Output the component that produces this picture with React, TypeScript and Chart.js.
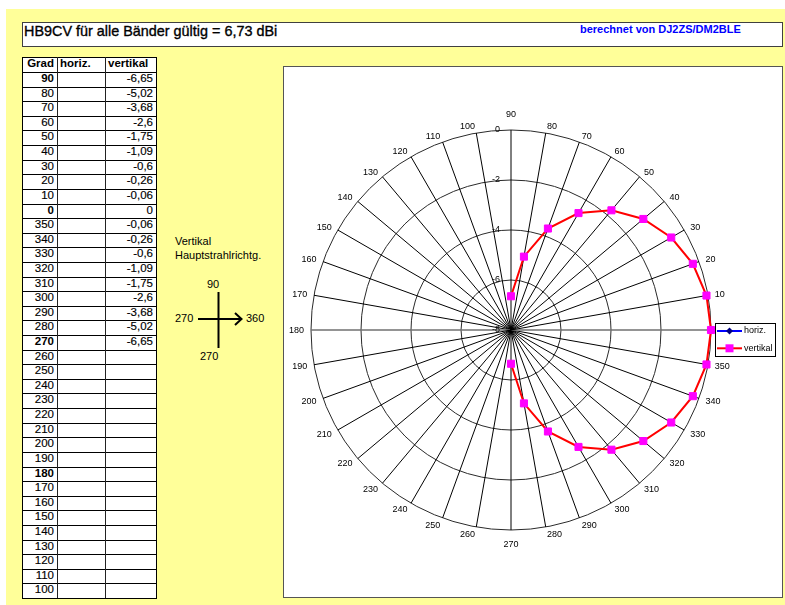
import React, { useEffect, useRef } from "react";
import { Chart, registerables } from "chart.js";

Chart.register(...registerables);

// ---------- data ----------
const degrees: number[] = [
  90, 80, 70, 60, 50, 40, 30, 20, 10, 0, 350, 340, 330, 320, 310, 300, 290, 280, 270,
  260, 250, 240, 230, 220, 210, 200, 190, 180, 170, 160, 150, 140, 130, 120, 110, 100,
];
const horizValues: (number | null)[] = [
  null, null, null, null, null, null, null, null, null, null, null, null, null, null, null, null, null, null, null,
  null, null, null, null, null, null, null, null, null, null, null, null, null, null, null, null, null,
];
const vertikalValues: (number | null)[] = [
  -6.65, -5.02, -3.68, -2.6, -1.75, -1.09, -0.6, -0.26, -0.06, 0, -0.06, -0.26, -0.6, -1.09, -1.75, -2.6, -3.68, -5.02, -6.65,
  null, null, null, null, null, null, null, null, null, null, null, null, null, null, null, null, null,
];
const boldDegrees: number[] = [90, 0, 270, 180];
const seriesNames: string[] = ["horiz.", "vertikal"];
const tableHeaders: string[] = ["Grad", "horiz.", "vertikal"];
const radialMin = -8;
const radialMax = 0;
const radialStep = 2;
const titleText = "HB9CV für alle Bänder gültig = 6,73 dBi";
const creditText = "berechnet von DJ2ZS/DM2BLE";

const FONT = '"Liberation Sans", Arial, Helvetica, sans-serif';

const fmt = (v: number | null) => (v === null ? "" : String(v).replace(".", ","));

// ---------- chart plugins ----------
const labelPlugin = {
  id: "excelLabels",
  afterDatasetsDraw(chart: any) {
    const scale = chart.scales.r;
    const ctx = chart.ctx as CanvasRenderingContext2D;
    ctx.save();
    ctx.font = `9px ${FONT}`;
    ctx.fillStyle = "#000";
    ctx.textBaseline = "middle";
    (chart.data.labels as string[]).forEach((lab, i) => {
      const angle = scale.getIndexAngle(i) - Math.PI / 2;
      const dx = Math.cos(angle);
      if (Math.abs(dx) < 0.01) {
        const p = scale.getPointPosition(i, scale.drawingArea + 15);
        ctx.textAlign = "center";
        ctx.fillText(String(lab), p.x, p.y);
      } else {
        const p = scale.getPointPosition(i, scale.drawingArea + 7);
        ctx.textAlign = dx > 0 ? "left" : "right";
        ctx.fillText(String(lab), p.x, p.y + 0.7);
      }
    });
    ctx.textAlign = "right";
    scale.ticks.forEach((t: any) => {
      const d = scale.getDistanceFromCenterForValue(t.value);
      ctx.fillText(String(t.value), scale.xCenter - 11, scale.yCenter - d);
    });
    ctx.restore();
  },
};

const legendPlugin = {
  id: "excelLegend",
  afterDraw(chart: any) {
    const ctx = chart.ctx as CanvasRenderingContext2D;
    const x = 432;
    const y = 257;
    const w = 61;
    const h = 34;
    ctx.save();
    ctx.fillStyle = "#fff";
    ctx.fillRect(x, y, w, h);
    ctx.strokeStyle = "#000";
    ctx.lineWidth = 1;
    ctx.strokeRect(x + 0.5, y + 0.5, w - 1, h - 1);
    chart.data.datasets.forEach((ds: any, i: number) => {
      const ly = y + 8 + i * 17.3;
      ctx.strokeStyle = ds.borderColor;
      ctx.lineWidth = 2;
      ctx.beginPath();
      ctx.moveTo(x + 2, ly);
      ctx.lineTo(x + 27, ly);
      ctx.stroke();
      const mx = x + 14.5;
      ctx.fillStyle = ds.pointBackgroundColor;
      if (ds.pointStyle === "rectRot") {
        ctx.beginPath();
        ctx.moveTo(mx, ly - 3.5);
        ctx.lineTo(mx + 3.5, ly);
        ctx.lineTo(mx, ly + 3.5);
        ctx.lineTo(mx - 3.5, ly);
        ctx.closePath();
        ctx.fill();
      } else {
        ctx.fillRect(mx - 4, ly - 4, 8, 8);
      }
      ctx.fillStyle = "#000";
      ctx.font = `9px ${FONT}`;
      ctx.textAlign = "left";
      ctx.textBaseline = "middle";
      ctx.fillText(ds.label, x + 29, ly);
    });
    ctx.restore();
  },
};

// ---------- components ----------
function RadarChart() {
  const ref = useRef<HTMLCanvasElement>(null);
  useEffect(() => {
    if (!ref.current) return;
    const chart = new Chart(ref.current, {
      type: "radar",
      data: {
        labels: degrees.map((d) => String(d)),
        datasets: [
          {
            label: seriesNames[0],
            data: horizValues as any,
            borderColor: "#0000FF",
            backgroundColor: "#000080",
            pointBackgroundColor: "#000080",
            pointBorderColor: "#000080",
            pointStyle: "rectRot",
            pointRadius: 4,
            borderWidth: 2,
            fill: false,
            spanGaps: false,
          } as any,
          {
            label: seriesNames[1],
            data: vertikalValues as any,
            borderColor: "#FF0000",
            backgroundColor: "#FF00FF",
            pointBackgroundColor: "#FF00FF",
            pointBorderColor: "#FF00FF",
            pointStyle: "rect",
            pointRadius: 5,
            pointBorderWidth: 1,
            borderWidth: 2,
            fill: false,
            spanGaps: false,
          } as any,
        ],
      },
      options: {
        responsive: false,
        animation: false,
        layout: { padding: { left: 28, right: 72, top: 64, bottom: 68 } },
        plugins: { legend: { display: false }, tooltip: { enabled: false } },
        elements: { line: { tension: 0 } },
        scales: {
          r: {
            min: radialMin,
            max: radialMax,
            startAngle: 0,
            beginAtZero: false,
            ticks: { display: false, stepSize: radialStep },
            pointLabels: { display: false },
            grid: { circular: true, color: "#2a2a2a", lineWidth: 1 },
            angleLines: {
              display: true,
              color: (c: any) => (c.index === 9 || c.index === 27 ? "#707070" : "#000000"),
              lineWidth: (c: any) => (c.index === 9 || c.index === 27 ? 1.3 : 1),
            },
          },
        },
      } as any,
      plugins: [labelPlugin, legendPlugin],
    });
    return () => chart.destroy();
  }, []);
  return (
    <canvas
      ref={ref}
      width={500}
      height={532}
      style={{ position: "absolute", left: 283, top: 66, width: 500, height: 532 }}
    />
  );
}

function DataTable() {
  const left = 22;
  const top = 57;
  const headerBottom = 72;
  const bottom = 598;
  const colX = [22, 57, 105, 156];
  const rowH = (bottom - headerBottom) / degrees.length;
  const rowTop = (i: number) => Math.round(headerBottom + i * rowH);
  const cellFont = `11.5px ${FONT}`;
  const cell = (
    key: string,
    c: number,
    y0: number,
    y1: number,
    text: string,
    align: "left" | "right",
    bold: boolean
  ) => (
    <div
      key={key}
      style={{
        position: "absolute",
        left: colX[c] - left + 1,
        top: y0 - top,
        width: colX[c + 1] - colX[c] - 1,
        height: y1 - y0,
        lineHeight: `${y1 - y0 + 1}px`,
        boxSizing: "border-box",
        paddingRight: align === "right" ? 3 : 0,
        paddingLeft: align === "left" ? 2 : 0,
        textAlign: align,
        font: cellFont,
        fontWeight: bold ? "bold" : "normal",
        color: "#000",
        whiteSpace: "nowrap",
        overflow: "hidden",
        WebkitTextStroke: bold ? "0" : "0.15px #000",
      }}
    >
      {text}
    </div>
  );
  const items: React.ReactNode[] = [];
  items.push(cell("h0", 0, top, headerBottom, tableHeaders[0], "right", true));
  items.push(cell("h1", 1, top, headerBottom, tableHeaders[1], "left", true));
  items.push(cell("h2", 2, top, headerBottom, tableHeaders[2], "left", true));
  degrees.forEach((d, i) => {
    const y0 = rowTop(i);
    const y1 = rowTop(i + 1);
    items.push(
      <div
        key={`hl${i}`}
        style={{ position: "absolute", left: 0, top: y0 - top, width: colX[3] - left + 1, height: 1, background: "#000" }}
      />
    );
    items.push(cell(`g${i}`, 0, y0, y1, String(d), "right", boldDegrees.includes(d)));
    items.push(cell(`h${i}`, 1, y0, y1, fmt(horizValues[i]), "right", false));
    items.push(cell(`v${i}`, 2, y0, y1, fmt(vertikalValues[i]), "right", false));
  });
  [colX[1], colX[2]].forEach((x, k) =>
    items.push(
      <div
        key={`vl${k}`}
        style={{ position: "absolute", left: x - left, top: 0, width: 1, height: bottom - top, background: "#222" }}
      />
    )
  );
  return (
    <div
      style={{
        position: "absolute",
        left,
        top,
        width: colX[3] - left + 1,
        height: bottom - top + 1,
        border: "1px solid #000",
        boxSizing: "border-box",
        background: "#fff",
      }}
    >
      <div style={{ position: "absolute", left: -1, top: -1, width: colX[3] - left + 1, height: bottom - top + 1 }}>
        {items}
      </div>
    </div>
  );
}

function Diagram() {
  const txt = (text: string, left: number, cy: number, extra: React.CSSProperties = {}) => (
    <span
      style={{
        position: "absolute",
        left,
        top: cy - 7,
        lineHeight: "14px",
        font: `11px ${FONT}`,
        color: "#000",
        whiteSpace: "nowrap",
        ...extra,
      }}
    >
      {text}
    </span>
  );
  return (
    <>
      {txt("Vertikal", 175, 242)}
      {txt("Hauptstrahlrichtg.", 175, 256)}
      {txt("90", 207, 285)}
      {txt("270", 175, 319)}
      {txt("360", 246, 319)}
      {txt("270", 200, 357)}
      <svg
        width={60}
        height={70}
        style={{ position: "absolute", left: 190, top: 288 }}
        viewBox="0 0 60 70"
      >
        <line x1={28.5} y1={4} x2={28.5} y2={60} stroke="#000" strokeWidth={2} />
        <line x1={8} y1={31} x2={51} y2={31} stroke="#000" strokeWidth={2} />
        <polyline points="45,25 51.5,31 45,37" fill="none" stroke="#000" strokeWidth={2} />
      </svg>
    </>
  );
}

export default function App() {
  return (
    <div style={{ position: "relative", width: 785, height: 605, background: "#fff", overflow: "hidden" }}>
      <style>{"body{margin:0;}"}</style>
      <div style={{ position: "absolute", left: 6, top: 9, width: 779, height: 596, background: "#FFFF99" }} />
      <div
        style={{
          position: "absolute",
          left: 22,
          top: 22,
          width: 761,
          height: 25,
          border: "1px solid #404040",
          boxSizing: "border-box",
          background: "#fff",
        }}
      >
        <span
          style={{
            position: "absolute",
            left: 1,
            top: 0,
            lineHeight: "23px",
            font: `14.4px ${FONT}`,
            color: "#000",
            whiteSpace: "nowrap",
            WebkitTextStroke: "0.35px #000",
          }}
        >
          {titleText}
        </span>
        <span
          style={{
            position: "absolute",
            left: 557,
            top: 0,
            lineHeight: "23px",
            font: `bold 11px ${FONT}`,
            color: "#0000FF",
            whiteSpace: "nowrap",
          }}
        >
          {creditText}
        </span>
      </div>
      <DataTable />
      <Diagram />
      <div
        style={{
          position: "absolute",
          left: 283,
          top: 66,
          width: 500,
          height: 532,
          border: "1px solid #555",
          boxSizing: "border-box",
          background: "#fff",
        }}
      />
      <RadarChart />
    </div>
  );
}
